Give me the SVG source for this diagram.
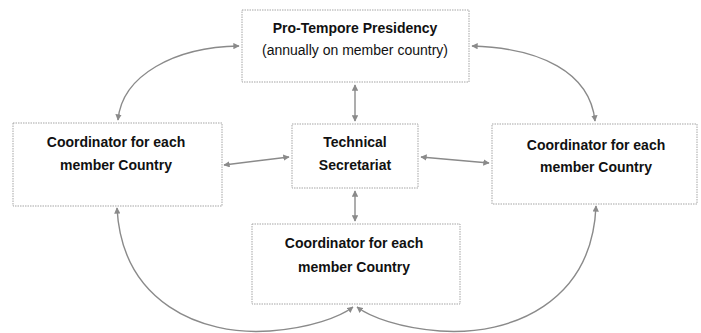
<svg xmlns="http://www.w3.org/2000/svg" width="701" height="333" viewBox="0 0 701 333">
<style>
.box{fill:#fff;stroke:#a5a5a5;stroke-width:1;stroke-dasharray:1.5 1}
.t{font-family:"Liberation Sans",Arial,sans-serif;font-size:14px;fill:#111;text-anchor:middle}
.b{font-weight:bold}
.c{fill:none;stroke:#8a8a8a;stroke-width:1.4;marker-start:url(#a);marker-end:url(#a)}
</style>
<defs>
<marker id="a" viewBox="0 0 10 10" refX="9" refY="5" markerWidth="4.5" markerHeight="4.5" orient="auto-start-reverse" markerUnits="strokeWidth">
<path d="M0,0 L10,5 L0,10 z" fill="#8a8a8a"/>
</marker>
</defs>
<rect width="701" height="333" fill="#fff"/>
<g id="connectors">
<path class="c" d="M355,85 L355,121"/>
<path class="c" d="M355,191 L355,221"/>
<path class="c" d="M224,165 L289,157"/>
<path class="c" d="M421,157 L489,163"/>
<path class="c" d="M118,120 C122,75 175,47 239,46"/>
<path class="c" d="M472,46 C540,48 590,72 595,121"/>
<path class="c" d="M117,208 C122,302 200,336 270,331 C310,328 340,317 353,307"/>
<path class="c" d="M596,206 C592,302 512,336 440,331 C400,328 370,317 357,307"/>
</g>
<g id="presidency">
<rect class="box" x="242" y="10" width="227" height="72"/>
<text class="t b" x="355" y="33">Pro-Tempore Presidency</text>
<text class="t" x="355" y="55">(annually on member country)</text>
</g>
<g id="coord-left">
<rect class="box" x="13" y="123" width="209" height="83"/>
<text class="t b" x="116" y="147">Coordinator for each</text>
<text class="t b" x="116" y="170">member Country</text>
</g>
<g id="secretariat">
<rect class="box" x="292" y="124" width="126" height="64"/>
<text class="t b" x="355" y="147">Technical</text>
<text class="t b" x="355" y="170">Secretariat</text>
</g>
<g id="coord-right">
<rect class="box" x="492" y="124" width="205" height="80"/>
<text class="t b" x="596" y="150">Coordinator for each</text>
<text class="t b" x="596" y="172">member Country</text>
</g>
<g id="coord-bottom">
<rect class="box" x="252" y="224" width="208" height="80"/>
<text class="t b" x="354" y="248">Coordinator for each</text>
<text class="t b" x="354" y="272">member Country</text>
</g>
</svg>
